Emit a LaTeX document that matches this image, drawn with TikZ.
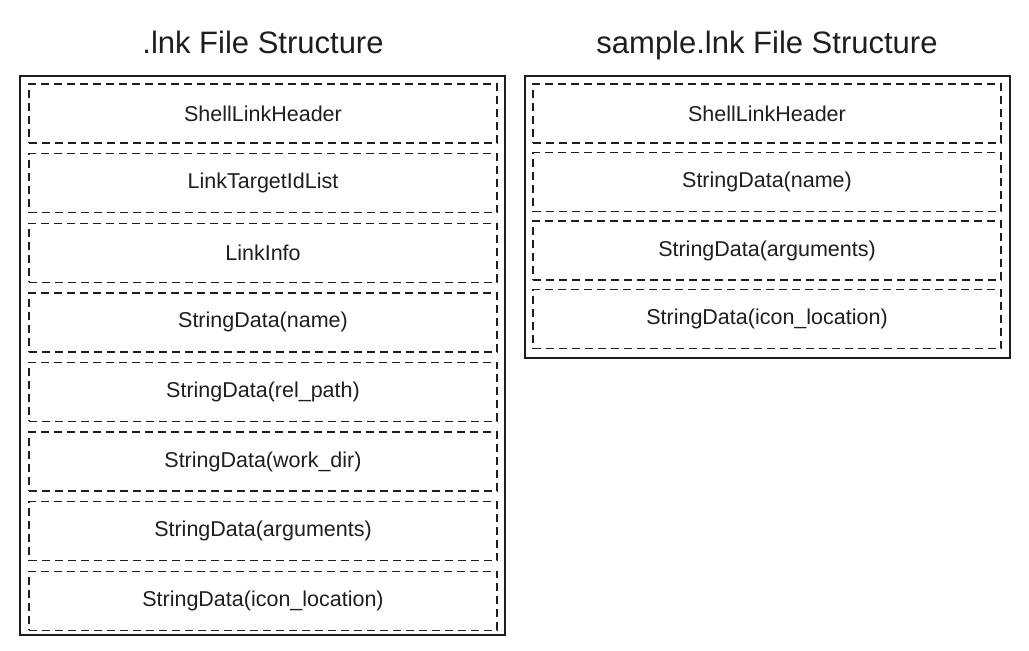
\documentclass[tikz,border=0pt]{standalone}
\usepackage{fontspec}
\setmainfont{Liberation Sans}
\definecolor{ink}{HTML}{1E1E1E}
\begin{document}
\begin{tikzpicture}[x=1pt,y=-1pt,
  outerbox/.style={draw=ink,line width=2pt},
  part/.style={draw=ink,line width=1.4pt,dash pattern=on 8pt off 5pt,minimum width=468pt,minimum height=59pt,inner sep=0pt,font=\fontsize{21.5}{25}\selectfont,text=ink},
  heading/.style={font=\fontsize{31}{36}\selectfont,text=ink,anchor=base}]
\useasboundingbox (0,0) rectangle (1029,651);
\node[heading] (t1) at (263,53) {.lnk File Structure};
\node[heading] (t2) at (767,53) {sample.lnk File Structure};
\draw[outerbox] (20,76) rectangle (505,635);
\draw[outerbox] (525,76) rectangle (1010,358);
\foreach \txt [count=\i] in {ShellLinkHeader,LinkTargetIdList,LinkInfo,StringData(name),StringData(rel\_path),StringData(work\_dir),StringData(arguments),StringData(icon\_location)}{
  \node[part] (l\i) at (263,{113.5+69.6*(\i-1)}) {\txt};
}
\foreach \txt [count=\i] in {ShellLinkHeader,StringData(name),StringData(arguments),StringData(icon\_location)}{
  \node[part] (r\i) at (767,{113.5+68.5*(\i-1)}) {\txt};
}
\end{tikzpicture}
\end{document}
